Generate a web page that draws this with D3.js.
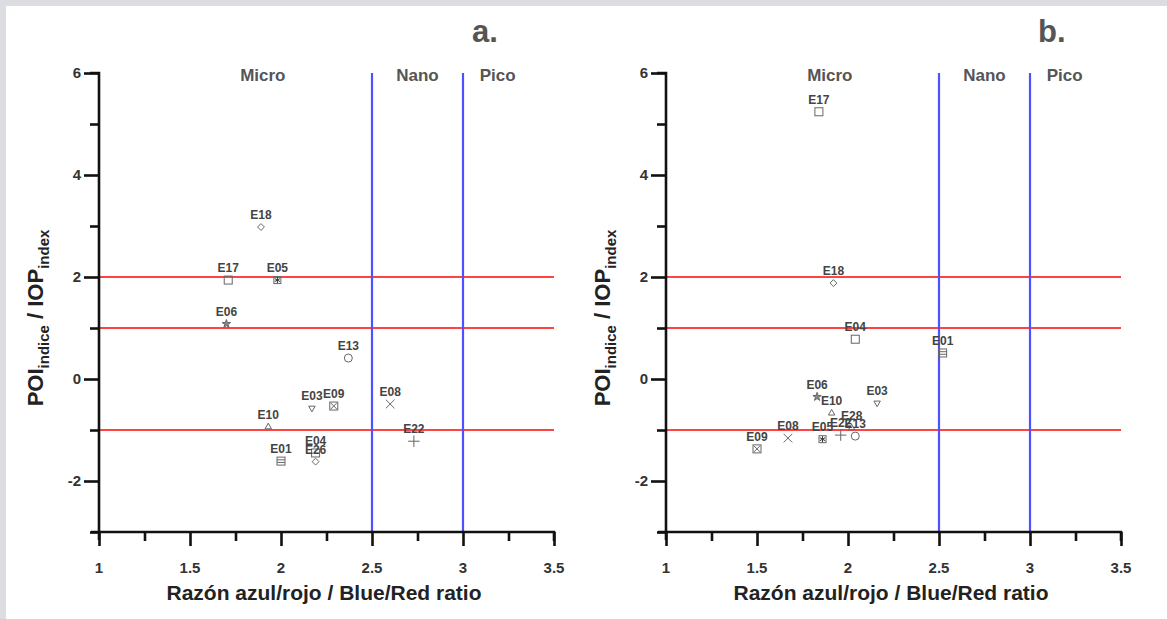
<!DOCTYPE html>
<html>
<head>
<meta charset="utf-8">
<script src="https://cdn.jsdelivr.net/npm/d3@7"></script>
<style>
  body { margin: 0; background: #dcdde0; }
  svg { display: block; font-family: Arial, "Liberation Sans", sans-serif; }
</style>
</head>
<body>
<svg id="chart" width="1167" height="619"></svg>
<script>
// Panel a data
const stationsA = ["E18", "E17", "E05", "E06", "E13", "E03", "E09", "E08", "E10", "E22", "E01", "E04", "E26"];
const ratioA = [1.89, 1.71, 1.98, 1.70, 2.37, 2.17, 2.29, 2.60, 1.93, 2.73, 2.00, 2.19, 2.19];
const poiA = [2.98, 1.94, 1.94, 1.08, 0.41, -0.57, -0.53, -0.49, -0.94, -1.22, -1.61, -1.45, -1.62];

// Panel b data
const stationsB = ["E17", "E18", "E04", "E01", "E06", "E03", "E10", "E28", "E22", "E13", "E05", "E08", "E09"];
const ratioB = [1.84, 1.92, 2.04, 2.52, 1.83, 2.16, 1.91, 2.02, 1.96, 2.04, 1.86, 1.67, 1.50];
const poiB = [5.24, 1.88, 0.78, 0.51, -0.35, -0.47, -0.67, -0.96, -1.10, -1.12, -1.18, -1.16, -1.37];

const xTicks = [1, 1.5, 2, 2.5, 3, 3.5];
const yTicks = [6, 4, 2, 0, -2];
const redLines = [2, 1, -1];
const blueLines = [2.5, 3];
const zones = [["Micro", 1.9], ["Nano", 2.75], ["Pico", 3.19]];

// marker shape per station
const shapeOf = {
    E18: "diamond", E17: "square", E05: "sqstar", E06: "star", E13: "circle",
    E03: "tridown", E09: "sqx", E08: "times", E10: "triup", E22: "plus",
    E01: "sqlines", E04: "square", E26: "diamond", E28: "triup"
};

const svg = d3.select("#chart");
svg.append("rect").attr("x", 6).attr("y", 6).attr("width", 1161).attr("height", 613).attr("fill", "#fff");

function drawMarker(g, shape, x, y) {
    const m = g.append("g").attr("transform", `translate(${x},${y})`)
        .attr("fill", "none").attr("stroke", "#666").attr("stroke-width", 1);
    const sym = t => d3.symbol().type(t).size(30)();
    if (shape === "diamond") m.append("path").attr("d", sym(d3.symbolDiamond2));
    else if (shape === "square") m.append("rect").attr("x", -4).attr("y", -4).attr("width", 8).attr("height", 8);
    else if (shape === "circle") m.append("circle").attr("r", 4);
    else if (shape === "triup") m.append("path").attr("d", sym(d3.symbolTriangle2));
    else if (shape === "tridown") m.append("path").attr("d", sym(d3.symbolTriangle2)).attr("transform", "rotate(180)");
    else if (shape === "times") m.append("path").attr("d", d3.symbol().type(d3.symbolTimes).size(50)());
    else if (shape === "plus") m.append("path").attr("d", d3.symbol().type(d3.symbolPlus).size(45)());
    else if (shape === "star") m.append("path").attr("d", d3.symbol().type(d3.symbolStar).size(22)()).attr("fill", "#888");
    else if (shape === "sqx") {
        m.append("rect").attr("x", -4).attr("y", -4).attr("width", 8).attr("height", 8);
        m.append("path").attr("d", "M-3,-3L3,3M3,-3L-3,3");
    } else if (shape === "sqlines") {
        m.append("rect").attr("x", -4).attr("y", -4).attr("width", 8).attr("height", 8);
        m.append("path").attr("d", "M-4,-1.3H4M-4,1.3H4");
    } else if (shape === "sqstar") {
        m.append("rect").attr("x", -3.5).attr("y", -3.5).attr("width", 7).attr("height", 7);
        m.append("path").attr("d", d3.symbol().type(d3.symbolAsterisk).size(25)()).attr("stroke", "#333");
    }
}

function drawPanel(left, letter, stations, ratios, pois) {
    const x = d3.scaleLinear().domain([1, 3.5]).range([left, left + 455]);
    const y = d3.scaleLinear().domain([-3, 6]).range([532, 73]);
    const g = svg.append("g");

    // reference lines
    g.selectAll(".red").data(redLines).join("line")
        .attr("x1", x(1)).attr("x2", x(3.5))
        .attr("y1", d => y(d)).attr("y2", d => y(d))
        .attr("stroke", "#ff4343").attr("stroke-width", 2.2);
    g.selectAll(".blue").data(blueLines).join("line")
        .attr("x1", d => x(d)).attr("x2", d => x(d))
        .attr("y1", y(6)).attr("y2", y(-3))
        .attr("stroke", "#5050ff").attr("stroke-width", 2.2);

    // axes
    const xAxis = d3.axisBottom(x).tickValues(d3.range(1, 3.51, 0.25)).tickSize(9).tickFormat("");
    const ax = g.append("g").attr("transform", `translate(0,${y(-3)})`).call(xAxis);
    ax.select(".domain").attr("d", `M${x(1) - 8},0H${x(3.5)}V9`);
    ax.selectAll(".tick line").attr("y2", d => xTicks.includes(d) ? 14 : 9);
    const yAxis = d3.axisLeft(y).ticks(9).tickSize(9).tickFormat("");
    const ay = g.append("g").attr("transform", `translate(${x(1)},0)`).call(yAxis);
    ay.select(".domain").attr("d", `M-9,${y(6)}H0V${y(-3) + 8}`);
    ay.selectAll(".tick line").attr("x2", d => yTicks.includes(d) ? -15 : -9);
    g.selectAll(".domain, .tick line").attr("stroke", "#111").attr("stroke-width", 2.6);

    g.selectAll(".xl").data(xTicks).join("text")
        .attr("x", d => x(d)).attr("y", 573)
        .attr("text-anchor", "middle").attr("font-size", 15).attr("font-weight", "bold").attr("fill", "#333")
        .text(d => d);
    g.selectAll(".yl").data(yTicks).join("text")
        .attr("x", x(1) - 18).attr("y", d => y(d) + 5)
        .attr("text-anchor", "end").attr("font-size", 15).attr("font-weight", "bold").attr("fill", "#333")
        .text(d => d);

    // titles
    g.append("text").attr("x", x(1) + 225).attr("y", 600)
        .attr("text-anchor", "middle").attr("font-size", 21).attr("font-weight", "bold").attr("fill", "#222")
        .text("Razón azul/rojo / Blue/Red ratio");
    const yt = g.append("text")
        .attr("transform", `translate(${left - 56},318) rotate(-90)`)
        .attr("text-anchor", "middle").attr("font-size", 22).attr("font-weight", "bold").attr("fill", "#222");
    yt.append("tspan").text("POI");
    yt.append("tspan").attr("dy", 6).attr("font-size", 15).text("indice");
    yt.append("tspan").attr("dy", -6).text(" / IOP");
    yt.append("tspan").attr("dy", 6).attr("font-size", 15).text("index");

    g.append("text").attr("x", x(3.12)).attr("y", 42)
        .attr("text-anchor", "middle").attr("font-size", 31).attr("font-weight", "bold").attr("fill", "#555")
        .text(letter);
    g.selectAll(".zone").data(zones).join("text")
        .attr("x", d => x(d[1])).attr("y", 81)
        .attr("text-anchor", "middle").attr("font-size", 17).attr("font-weight", "bold").attr("fill", "#555")
        .text(d => d[0]);

    // points
    stations.forEach((s, i) => {
        drawMarker(g, shapeOf[s], x(ratios[i]), y(pois[i]));
        g.append("text").attr("x", x(ratios[i])).attr("y", y(pois[i]) - 8)
            .attr("text-anchor", "middle").attr("font-size", 12).attr("font-weight", "bold").attr("fill", "#444")
            .text(s);
    });
}

drawPanel(99, "a.", stationsA, ratioA, poiA);
drawPanel(666, "b.", stationsB, ratioB, poiB);
</script>
</body>
</html>
